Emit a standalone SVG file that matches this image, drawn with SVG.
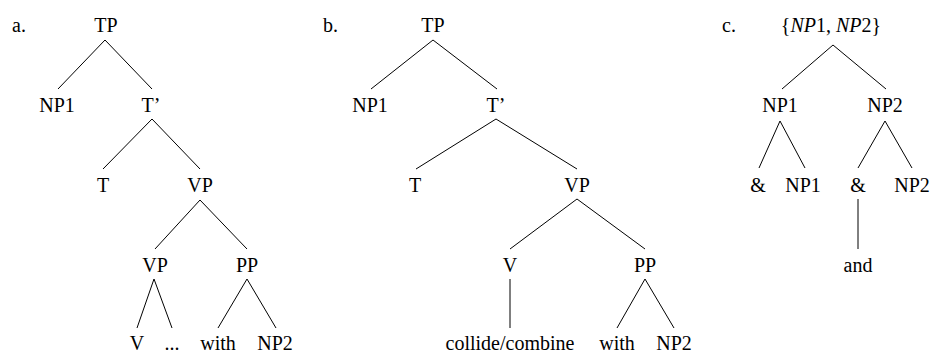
<svg xmlns="http://www.w3.org/2000/svg" width="931" height="354" viewBox="0 0 931 354">
  <style>
    text { font-family: 'Liberation Serif', 'Times New Roman', Times, 'Nimbus Roman', 'Nimbus Roman No9 L', FreeSerif, Tinos, 'Noto Serif', 'DejaVu Serif', serif; font-size: 20px; fill: #000; }
    .n { text-anchor: middle; }
    .edge { stroke: #000; stroke-width: 1; fill: none; }
    .mi { font-style: italic; }
  </style>
  <rect width="931" height="354" fill="#fff"/>

  <!-- panel labels -->
  <text x="12" y="32">a.</text>
  <text x="323" y="32">b.</text>
  <text x="722" y="32">c.</text>

  <!-- connectors -->
  <g id="connectors" class="edge">
    <!-- tree a -->
    <line x1="105" y1="40" x2="58" y2="89"/>
    <line x1="105" y1="40" x2="152" y2="89"/>
    <line x1="152" y1="119" x2="103" y2="169"/>
    <line x1="152" y1="119" x2="200" y2="169"/>
    <line x1="200" y1="200" x2="155" y2="249"/>
    <line x1="200" y1="200" x2="247" y2="249"/>
    <line x1="154" y1="279" x2="137" y2="328"/>
    <line x1="154" y1="279" x2="172" y2="328"/>
    <line x1="247" y1="279" x2="218" y2="328"/>
    <line x1="247" y1="279" x2="276" y2="328"/>
    <!-- tree b -->
    <line x1="433" y1="40" x2="371" y2="89"/>
    <line x1="433" y1="40" x2="497" y2="89"/>
    <line x1="496" y1="119" x2="416" y2="169"/>
    <line x1="496" y1="119" x2="577" y2="169"/>
    <line x1="577" y1="199" x2="510" y2="249"/>
    <line x1="577" y1="199" x2="645" y2="249"/>
    <line x1="510" y1="279" x2="510" y2="328"/>
    <line x1="645" y1="279" x2="617" y2="328"/>
    <line x1="645" y1="279" x2="674" y2="328"/>
    <!-- tree c -->
    <line x1="833" y1="45" x2="782" y2="89"/>
    <line x1="833" y1="45" x2="886" y2="89"/>
    <line x1="780" y1="121" x2="759" y2="168"/>
    <line x1="780" y1="121" x2="805" y2="168"/>
    <line x1="885" y1="121" x2="858" y2="168"/>
    <line x1="885" y1="121" x2="912" y2="168"/>
    <line x1="858" y1="199" x2="858" y2="249"/>
  </g>

  <!-- tree a nodes -->
  <g id="a-TP"><text class="n" x="106" y="32">TP</text></g>
  <g id="a-NP1"><text class="n" x="57" y="112">NP1</text></g>
  <g id="a-Tbar"><text class="n" x="151" y="112">T’</text></g>
  <g id="a-T"><text class="n" x="103" y="192">T</text></g>
  <g id="a-VP"><text class="n" x="200" y="192">VP</text></g>
  <g id="a-VP2"><text class="n" x="155" y="272">VP</text></g>
  <g id="a-PP"><text class="n" x="247" y="272">PP</text></g>
  <g id="a-V"><text class="n" x="137" y="350">V</text></g>
  <g id="a-dots"><text class="n" x="172" y="350">...</text></g>
  <g id="a-with"><text class="n" x="218" y="350">with</text></g>
  <g id="a-NP2"><text class="n" x="275" y="350">NP2</text></g>

  <!-- tree b nodes -->
  <g id="b-TP"><text class="n" x="433" y="32">TP</text></g>
  <g id="b-NP1"><text class="n" x="370" y="112">NP1</text></g>
  <g id="b-Tbar"><text class="n" x="496" y="112">T’</text></g>
  <g id="b-T"><text class="n" x="415" y="192">T</text></g>
  <g id="b-VP"><text class="n" x="577" y="192">VP</text></g>
  <g id="b-V"><text class="n" x="510" y="272">V</text></g>
  <g id="b-PP"><text class="n" x="645" y="272">PP</text></g>
  <g id="b-verb"><text class="n" x="510" y="350">collide/combine</text></g>
  <g id="b-with"><text class="n" x="617" y="350">with</text></g>
  <g id="b-NP2"><text class="n" x="674" y="350">NP2</text></g>

  <!-- tree c nodes -->
  <g id="c-set"><text class="n" x="831" y="32">{<tspan class="mi">NP</tspan>1, <tspan class="mi">NP</tspan>2}</text></g>
  <g id="c-NP1"><text class="n" x="780" y="112">NP1</text></g>
  <g id="c-NP2"><text class="n" x="885" y="112">NP2</text></g>
  <g id="c-amp1"><text class="n" x="758" y="192">&amp;</text></g>
  <g id="c-NP1b"><text class="n" x="803" y="192">NP1</text></g>
  <g id="c-amp2"><text class="n" x="858" y="192">&amp;</text></g>
  <g id="c-NP2b"><text class="n" x="912" y="192">NP2</text></g>
  <g id="c-and"><text class="n" x="858" y="272">and</text></g>
</svg>
